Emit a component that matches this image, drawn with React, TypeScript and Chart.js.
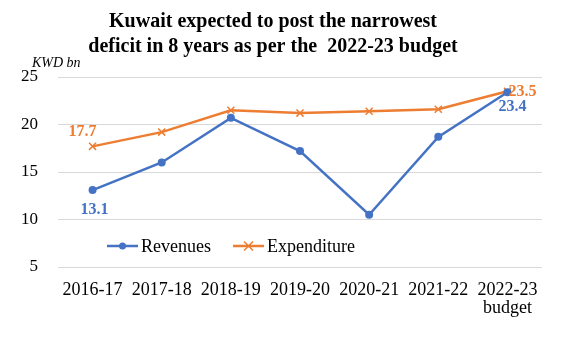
import React, { useEffect, useRef } from "react";
import { Chart, registerables } from "chart.js";

Chart.register(...registerables);

const categories: (string | string[])[] = ["2016-17", "2017-18", "2018-19", "2019-20", "2020-21", "2021-22", ["2022-23", "budget"]];
const revenues = [13.1, 16.0, 20.7, 17.2, 10.5, 18.7, 23.4];
const expenditure = [17.7, 19.2, 21.5, 21.2, 21.4, 21.6, 23.5];
const yTicks = [5, 10, 15, 20, 25];
const titleLines = ["Kuwait expected to post the narrowest", "deficit in 8 years as per the  2022-23 budget"];
const unitLabel = "KWD bn";

const BLUE = "#4472C4";
const ORANGE = "#ED7D31";
const SERIF = "'Liberation Serif', 'Times New Roman', serif";

const overlay = {
  id: "overlay",
  afterDraw(chart: any) {
    const ctx = chart.ctx;
    const xs = chart.scales.x;
    const ys = chart.scales.y;
    ctx.save();
    // title
    ctx.fillStyle = "#000";
    ctx.font = `bold 20px ${SERIF}`;
    ctx.textAlign = "center";
    ctx.textBaseline = "alphabetic";
    ctx.fillText(titleLines[0], 273, 27);
    ctx.fillText(titleLines[1], 273, 52);
    // unit
    ctx.font = `italic 14px ${SERIF}`;
    ctx.textAlign = "left";
    ctx.fillText(unitLabel, 32, 67);
    // data labels
    ctx.font = `bold 16px ${SERIF}`;
    ctx.textBaseline = "middle";
    const last = categories.length - 1;
    ctx.fillStyle = ORANGE;
    ctx.textAlign = "center";
    ctx.fillText(expenditure[0].toFixed(1), xs.getPixelForValue(0) - 10, ys.getPixelForValue(expenditure[0]) - 14);
    ctx.textAlign = "left";
    ctx.fillText(expenditure[last].toFixed(1), xs.getPixelForValue(last) + 1, ys.getPixelForValue(expenditure[last]) + 1);
    ctx.fillStyle = BLUE;
    ctx.textAlign = "center";
    ctx.fillText(revenues[0].toFixed(1), xs.getPixelForValue(0) + 2, ys.getPixelForValue(revenues[0]) + 20);
    ctx.fillText(revenues[last].toFixed(1), xs.getPixelForValue(last) + 5, ys.getPixelForValue(revenues[last]) + 15);
    // legend
    const ly = 246;
    const items = [
      { label: chart.data.datasets[0].label, color: BLUE, style: "circle", x: 107 },
      { label: chart.data.datasets[1].label, color: ORANGE, style: "crossRot", x: 233 },
    ];
    ctx.font = `18px ${SERIF}`;
    ctx.textAlign = "left";
    ctx.textBaseline = "middle";
    for (const it of items) {
      ctx.strokeStyle = it.color;
      ctx.fillStyle = it.color;
      ctx.lineWidth = 2.5;
      ctx.beginPath();
      ctx.moveTo(it.x, ly);
      ctx.lineTo(it.x + 31, ly);
      ctx.stroke();
      const cx = it.x + 15.5;
      if (it.style === "circle") {
        ctx.beginPath();
        ctx.arc(cx, ly, 3.5, 0, Math.PI * 2);
        ctx.fill();
      } else {
        ctx.lineWidth = 1.5;
        ctx.beginPath();
        ctx.moveTo(cx - 4.5, ly - 4.5);
        ctx.lineTo(cx + 4.5, ly + 4.5);
        ctx.moveTo(cx + 4.5, ly - 4.5);
        ctx.lineTo(cx - 4.5, ly + 4.5);
        ctx.stroke();
      }
      ctx.fillStyle = "#000";
      ctx.fillText(it.label, it.x + 34, ly + 1);
    }
    ctx.restore();
  },
};

export default function App() {
  const ref = useRef<HTMLCanvasElement | null>(null);
  useEffect(() => {
    document.body.style.margin = "0";
    const chart = new Chart(ref.current!, {
      type: "line",
      data: {
        labels: categories,
        datasets: [
          {
            label: "Revenues",
            data: revenues,
            borderColor: BLUE,
            backgroundColor: BLUE,
            borderWidth: 2.5,
            pointStyle: "circle",
            pointRadius: 4,
            pointBorderWidth: 0,
            tension: 0,
          },
          {
            label: "Expenditure",
            data: expenditure,
            borderColor: ORANGE,
            backgroundColor: ORANGE,
            borderWidth: 2.5,
            pointStyle: "crossRot",
            pointRadius: 5,
            pointBorderWidth: 1.5,
            tension: 0,
          },
        ],
      },
      options: {
        animation: false,
        responsive: false,
        layout: { padding: { top: 77, right: 20, left: 0, bottom: 0 } },
        plugins: { legend: { display: false }, title: { display: false }, tooltip: { enabled: false } },
        scales: {
          x: {
            offset: true,
            grid: { display: false, drawTicks: false, offset: true },
            border: { display: false },
            ticks: { color: "#000", font: { family: SERIF, size: 18, lineHeight: 1.0 }, padding: 14, maxRotation: 0, autoSkip: false },
            afterFit(s: any) { s.height = 72; },
          },
          y: {
            min: 5,
            max: 25,
            afterBuildTicks(s: any) { s.ticks = yTicks.map((v) => ({ value: v })); },
            grid: { color: "#d9d9d9", lineWidth: 1, drawTicks: false },
            border: { display: false },
            ticks: { color: "#000", font: { family: SERIF, size: 17 }, padding: 20 },
            afterFit(s: any) { s.width = 58; },
          },
        },
      },
      plugins: [overlay],
    });
    return () => chart.destroy();
  }, []);
  return <canvas ref={ref} width={562} height={339} style={{ display: "block" }} />;
}
